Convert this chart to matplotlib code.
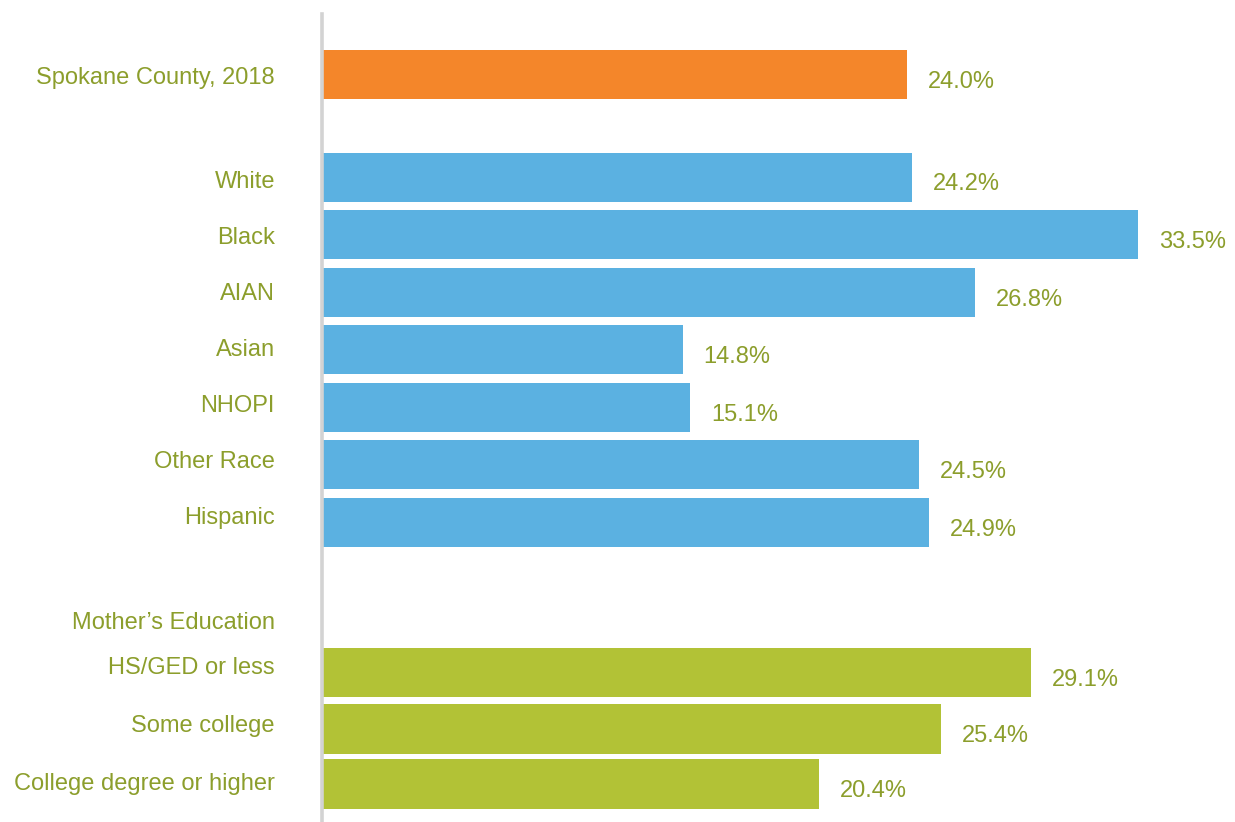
import matplotlib.pyplot as plt

# dados
categorias = ["Spokane County, 2018", "White", "Black", "AIAN", "Asian", "NHOPI",
              "Other Race", "Hispanic", "HS/GED or less", "Some college",
              "College degree or higher"]
valores = [24.0, 24.2, 33.5, 26.8, 14.8, 15.1, 24.5, 24.9, 29.1, 25.4, 20.4]
grupos = ["total", "raca", "raca", "raca", "raca", "raca", "raca", "raca",
          "edu", "edu", "edu"]
titulo_edu = "Mother\u2019s Education"

# layout (posicoes em pixels da figura, eixo y invertido)
pos_barras = [74.5, 177.5, 234.5, 292.5, 349.5, 407.5, 464.5, 522.5, 672.5, 729, 784]
pos_rotulos = [78, 182, 238, 294, 350, 406, 462, 518, 668, 726, 784]
pos_titulo_edu = 623
altura_barra = 49.5

cores = {"total": "#F4862A", "raca": "#5BB1E1", "edu": "#B2C236"}
cor_texto = "#8C9E2C"

plt.rcParams['font.family'] = ['Liberation Sans', 'DejaVu Sans']
fonte = dict(fontsize=17, fontstretch='normal', color=cor_texto)

fig = plt.figure(figsize=(12.35, 8.22), dpi=100)
x0 = 322
px_por_pct = 24.36
ax = fig.add_axes([x0 / 1235, 0, (1235 - x0) / 1235, 1])
ax.set_xlim(0, (1235 - x0) / px_por_pct)
ax.set_ylim(822, 0)

ax.barh(pos_barras, valores, height=altura_barra,
        color=[cores[g] for g in grupos], zorder=1)

for yb, v in zip(pos_barras, valores):
    ax.text(v + 21 / px_por_pct, yb + 7, f"{v:.1f}%", va='center', ha='left', **fonte)

for yr, nome in zip(pos_rotulos, categorias):
    ax.text(-47 / px_por_pct, yr, nome, va='center', ha='right', clip_on=False, **fonte)
ax.text(-47 / px_por_pct, pos_titulo_edu, titulo_edu, va='center', ha='right',
        clip_on=False, **fonte)

for s in ['top', 'right', 'bottom']:
    ax.spines[s].set_visible(False)
ax.spines['left'].set_color('#D3D3D3')
ax.spines['left'].set_linewidth(2.6)
ax.spines['left'].set_bounds(822, 14)
ax.set_xticks([])
ax.set_yticks([])

fig.savefig('out.png', dpi=100)
